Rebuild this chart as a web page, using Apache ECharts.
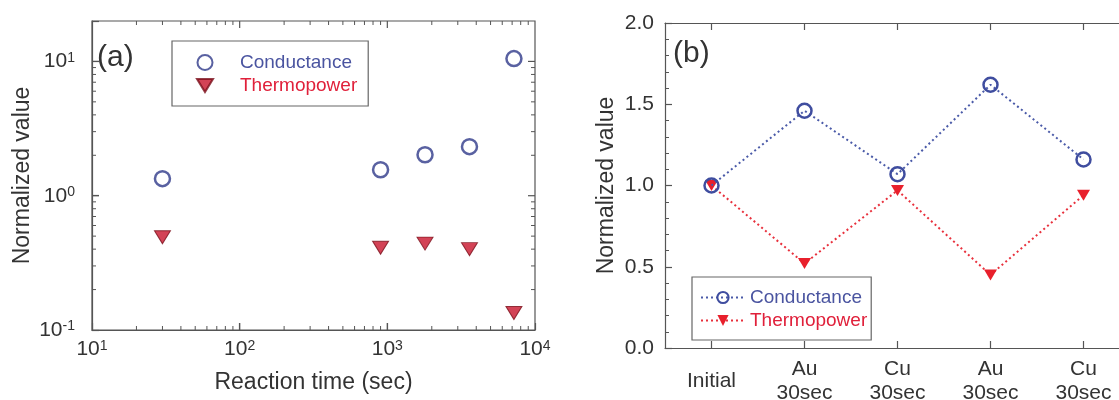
<!DOCTYPE html>
<html>
<head>
<meta charset="utf-8">
<script src="https://cdn.jsdelivr.net/npm/echarts@6/dist/echarts.min.js"></script>
<style>
html, body { margin: 0; padding: 0; background: #fff; }
#main { width: 1119px; height: 400px; }
</style>
</head>
<body>
<div id="main"></div>
<script>
// (a) reaction time dependence (log-log)
var reactionTime = [30, 900, 1800, 3600, 7200];
var condA = [1.34, 1.56, 2.02, 2.32, 10.5];
var thermoA = [0.49, 0.41, 0.44, 0.40, 0.134];
var majorX = [100, 1000];
var majorY = [1, 10];
var minorX = [20, 30, 40, 50, 60, 70, 80, 90, 200, 300, 400, 500, 600, 700, 800, 900,
              2000, 3000, 4000, 5000, 6000, 7000, 8000, 9000];
var minorY = [0.2, 0.3, 0.4, 0.5, 0.6, 0.7, 0.8, 0.9, 2, 3, 4, 5, 6, 7, 8, 9];

// (b) alternating Au / Cu steps
var steps = ['Initial', 'Au\n30sec', 'Cu\n30sec', 'Au\n30sec', 'Cu\n30sec'];
var condB = [1.0, 1.46, 1.07, 1.62, 1.16];
var thermoB = [1.0, 0.52, 0.97, 0.45, 0.94];

var FONT = 'Liberation Sans, Arial, sans-serif';
var TXT = '#333';
var AX = '#555';
var BLUE = '#2f3a8a';
var BLUE_T = '#4a54a0';
var RED = '#c8142c';
var RED_T = '#e0203a';

var chart = echarts.init(document.getElementById('main'));

function powLabel(v) {
    var l = Math.log(v) / Math.LN10;
    var e = Math.round(l);
    if (Math.abs(l - e) > 1e-6) return '';
    return '{b|10}{s|' + e + '}';
}
var powRich = {
    b: { fontSize: 21, color: TXT, fontFamily: FONT },
    s: { fontSize: 14, color: TXT, fontFamily: FONT, verticalAlign: 'top' }
};

var axLine = { show: true, onZero: false, lineStyle: { color: AX, width: 1.2 } };
var majorTick = { show: true, inside: true, length: 7, lineStyle: { color: AX, width: 1.2 } };

// inward ticks on both sides of the log panel, placed through the axis scales
function xTicks(len, w) {
    return function (params, api) {
        var cs = params.coordSys;
        var x = api.coord([api.value(0), 1])[0];
        var b = cs.y + cs.height;
        return { type: 'group', children: [
            { type: 'line', shape: { x1: x, y1: b, x2: x, y2: b - len }, style: { stroke: AX, lineWidth: w } },
            { type: 'line', shape: { x1: x, y1: cs.y, x2: x, y2: cs.y + len }, style: { stroke: AX, lineWidth: w } }
        ] };
    };
}
function yTicks(len, w) {
    return function (params, api) {
        var cs = params.coordSys;
        var y = api.coord([100, api.value(1)])[1];
        var r = cs.x + cs.width;
        return { type: 'group', children: [
            { type: 'line', shape: { x1: cs.x, y1: y, x2: cs.x + len, y2: y }, style: { stroke: AX, lineWidth: w } },
            { type: 'line', shape: { x1: r, y1: y, x2: r - len, y2: y }, style: { stroke: AX, lineWidth: w } }
        ] };
    };
}

var option = {
    animation: false,
    backgroundColor: '#fff',
    textStyle: { fontFamily: FONT, color: TXT },
    title: [
        { text: '(a)', left: 92, top: 38, textStyle: { fontSize: 30, fontWeight: 'normal', color: TXT, fontFamily: FONT } },
        { text: '(b)', left: 668, top: 34, textStyle: { fontSize: 30, fontWeight: 'normal', color: TXT, fontFamily: FONT } }
    ],
    legend: [
        {
            orient: 'vertical', left: 172, top: 41,
            itemWidth: 16, itemHeight: 15, itemGap: 4,
            padding: [12, 11, 11, 24],
            borderColor: '#666', borderWidth: 1.2,
            selectedMode: false,
            textStyle: { fontSize: 19, fontFamily: FONT, padding: [0, 0, 0, 22] },
            formatter: function (n) { return n.split(' (')[0]; },
            data: [
                { name: 'Conductance (a)', textStyle: { color: BLUE_T } },
                { name: 'Thermopower (a)', icon: 'path://M0,0L16,0L8,13Z', textStyle: { color: RED_T } }
            ]
        },
        {
            orient: 'vertical', left: 692, top: 277,
            itemWidth: 44, itemHeight: 14, itemGap: 4,
            padding: [11, 4, 10, 8],
            borderColor: '#666', borderWidth: 1.2,
            selectedMode: false,
            textStyle: { fontSize: 19, fontFamily: FONT },
            formatter: function (n) { return n.split(' (')[0]; },
            data: [
                { name: 'Conductance (b)', textStyle: { color: BLUE_T } },
                { name: 'Thermopower (b)', textStyle: { color: RED_T } }
            ]
        }
    ],
    grid: [
        { left: 92, right: 584, top: 21, bottom: 70, outerBoundsMode: 'none',
          show: true, borderColor: AX, borderWidth: 1.2, backgroundColor: 'transparent' },
        { left: 665, right: -11, top: 23, bottom: 52, outerBoundsMode: 'none' }
    ],
    xAxis: [
        {
            gridIndex: 0, type: 'log', logBase: 10, min: 10, max: 10000, position: 'bottom',
            axisLine: axLine, axisTick: majorTick, splitLine: { show: false },
            axisLabel: { formatter: powLabel, rich: powRich, margin: 9 },
            name: 'Reaction time (sec)', nameLocation: 'middle', nameGap: 41,
            nameTextStyle: { fontSize: 23, color: TXT, fontFamily: FONT }
        },
        {
            gridIndex: 1, type: 'category', data: steps, boundaryGap: true, position: 'bottom',
            axisLine: axLine,
            axisTick: { show: true, inside: true, alignWithLabel: true, length: 7, lineStyle: { color: AX, width: 1.2 } },
            axisLabel: {
                interval: 0, margin: 9, fontSize: 21, lineHeight: 24, color: TXT, fontFamily: FONT,
                formatter: function (v) { return v === 'Initial' ? '{one|Initial}' : v; },
                rich: { one: { fontSize: 21, lineHeight: 48, color: TXT, fontFamily: FONT } }
            }
        },
        {
            gridIndex: 1, type: 'category', data: steps, boundaryGap: true, position: 'top',
            axisLine: axLine,
            axisTick: { show: true, inside: true, alignWithLabel: true, length: 7, lineStyle: { color: AX, width: 1.2 } },
            axisLabel: { show: false }
        }
    ],
    yAxis: [
        {
            gridIndex: 0, type: 'log', logBase: 10, min: 0.1, max: 20, position: 'left',
            axisLine: axLine, axisTick: majorTick, splitLine: { show: false },
            axisLabel: { formatter: powLabel, rich: powRich, margin: 17 },
            name: 'Normalized value', nameLocation: 'middle', nameGap: 58,
            nameTextStyle: { fontSize: 23, color: TXT, fontFamily: FONT }
        },
        {
            gridIndex: 1, type: 'value', min: 0, max: 2, interval: 0.5, position: 'left',
            axisLine: axLine, axisTick: majorTick, splitLine: { show: false },
            minorTick: { show: true, splitNumber: 5, length: 4, lineStyle: { color: AX, width: 1 } },
            axisLabel: {
                margin: 11, fontSize: 21, color: TXT, fontFamily: FONT,
                formatter: function (v) { return v.toFixed(1); }
            },
            name: 'Normalized value', nameLocation: 'middle', nameGap: 47,
            nameTextStyle: { fontSize: 23, color: TXT, fontFamily: FONT }
        }
    ],
    series: [
        {
            type: 'custom', xAxisIndex: 0, yAxisIndex: 0, silent: true, z: 1,
            renderItem: xTicks(4, 1),
            data: minorX.map(function (v) { return [v, 1]; })
        },
        {
            type: 'custom', xAxisIndex: 0, yAxisIndex: 0, silent: true, z: 1,
            renderItem: yTicks(4, 1),
            data: minorY.map(function (v) { return [100, v]; })
        },
        {
            type: 'custom', xAxisIndex: 0, yAxisIndex: 0, silent: true, z: 1,
            renderItem: xTicks(7, 1.2),
            data: majorX.map(function (v) { return [v, 1]; })
        },
        {
            type: 'custom', xAxisIndex: 0, yAxisIndex: 0, silent: true, z: 1,
            renderItem: yTicks(7, 1.2),
            data: majorY.map(function (v) { return [100, v]; })
        },
        {
            name: 'Conductance (a)', type: 'scatter', xAxisIndex: 0, yAxisIndex: 0,
            symbol: 'circle', symbolSize: 15,
            itemStyle: { color: 'rgba(255,255,255,0)', borderColor: BLUE, borderWidth: 2.5 },
            data: reactionTime.map(function (t, i) { return [t, condA[i]]; })
        },
        {
            name: 'Thermopower (a)', type: 'scatter', xAxisIndex: 0, yAxisIndex: 0,
            symbol: 'triangle', symbolRotate: 180, symbolSize: [16, 13],
            itemStyle: { color: RED, borderColor: '#7a0f1a', borderWidth: 1 },
            data: reactionTime.map(function (t, i) { return [t, thermoA[i]]; })
        },
        {
            name: 'Thermopower (b)', type: 'line', xAxisIndex: 1, yAxisIndex: 1, z: 2,
            symbol: 'triangle', symbolRotate: 180, symbolSize: [13, 11],
            itemStyle: { color: '#e8202c' },
            lineStyle: { color: '#e8303c', width: 2, type: [2, 3] },
            data: thermoB
        },
        {
            name: 'Conductance (b)', type: 'line', xAxisIndex: 1, yAxisIndex: 1, z: 3,
            symbol: 'circle', symbolSize: 14,
            itemStyle: { color: 'rgba(255,255,255,0)', borderColor: '#3f4d9f', borderWidth: 2.5 },
            lineStyle: { color: '#4a5aa8', width: 2, type: [2, 3] },
            data: condB
        }
    ]
};

chart.setOption(option);
</script>
</body>
</html>
